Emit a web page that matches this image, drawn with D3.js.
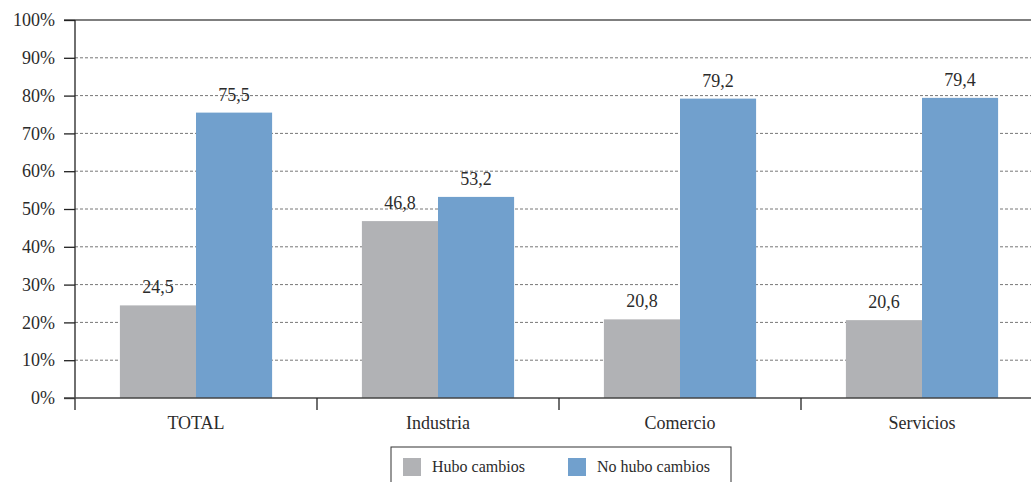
<!DOCTYPE html>
<html>
<head>
<meta charset="utf-8">
<script src="https://cdn.jsdelivr.net/npm/d3@7"></script>
<style>
  body { margin: 0; background: #fff; }
</style>
</head>
<body>
<div id="main"></div>
<script>
const categories = ['TOTAL', 'Industria', 'Comercio', 'Servicios'];
const series = ['Hubo cambios', 'No hubo cambios'];
const huboCambios = [24.5, 46.8, 20.8, 20.6];
const noHuboCambios = [75.5, 53.2, 79.2, 79.4];
const yTicks = [0, 10, 20, 30, 40, 50, 60, 70, 80, 90, 100];
const colors = ['#b1b2b5', '#71a0cd'];

const w = 1031;
const h = 482;
const padLeft = 75, padTop = 20, padBottom = 398, padRight = 1043;
const serif = "'Liberation Serif'";
const ink = '#2b2b2b';

const rows = categories.map((c, i) => ({cat: c, values: [huboCambios[i], noHuboCambios[i]]}));

const xScale = d3.scaleBand().domain(categories).range([padLeft, padRight]).paddingInner(0).paddingOuter(0);
const xInner = d3.scaleBand().domain(series).range([0, xScale.bandwidth()]).paddingOuter(0.59);
const yScale = d3.scaleLinear().domain([0, 100]).range([padBottom, padTop]);

const svg = d3.select('#main').append('svg').attr('width', w).attr('height', h);

// grid lines
svg.append('g').selectAll('line')
  .data(yTicks.filter(t => t > 0 && t < 100))
  .enter().append('line')
  .attr('x1', padLeft).attr('x2', w)
  .attr('y1', d => yScale(d)).attr('y2', d => yScale(d))
  .attr('stroke', '#777').attr('stroke-width', 1)
  .attr('stroke-dasharray', '3,2');

// top line
svg.append('line')
  .attr('x1', 64).attr('x2', w)
  .attr('y1', yScale(100)).attr('y2', yScale(100))
  .attr('stroke', '#555').attr('stroke-width', 1.3);

// bars
const groups = svg.selectAll('.grp').data(rows).enter().append('g')
  .attr('class', 'grp')
  .attr('transform', d => `translate(${xScale(d.cat)},0)`);

groups.selectAll('rect')
  .data(d => d.values.map((v, i) => ({key: series[i], v: v, i: i})))
  .enter().append('rect')
  .attr('x', d => xInner(d.key))
  .attr('width', xInner.bandwidth())
  .attr('y', d => yScale(d.v))
  .attr('height', d => padBottom - yScale(d.v))
  .attr('fill', d => colors[d.i]);

groups.selectAll('.lbl')
  .data(d => d.values.map((v, i) => ({key: series[i], v: v})))
  .enter().append('text')
  .attr('class', 'lbl')
  .attr('x', d => xInner(d.key) + xInner.bandwidth() / 2)
  .attr('y', d => yScale(d.v) - 12)
  .attr('text-anchor', 'middle')
  .style('font-family', serif).style('font-size', '18px').style('fill', ink)
  .text(d => d.v.toFixed(1).replace('.', ','));

// y axis
const yAxis = d3.axisLeft(yScale).tickValues(yTicks).tickSize(11).tickPadding(9)
  .tickFormat(d => d + '%');
const gy = svg.append('g').attr('transform', `translate(${padLeft},0)`).call(yAxis);
gy.select('.domain').remove();
gy.selectAll('line').attr('stroke', '#222').attr('stroke-width', 1.3);
gy.selectAll('text').style('font-family', serif).style('font-size', '18px').style('fill', ink);
svg.append('line').attr('x1', padLeft).attr('x2', padLeft).attr('y1', padTop).attr('y2', 410)
  .attr('stroke', '#222').attr('stroke-width', 1.3);

// x axis
svg.append('line').attr('x1', 64).attr('x2', w)
  .attr('y1', padBottom).attr('y2', padBottom)
  .attr('stroke', '#444').attr('stroke-width', 1.5);
svg.append('g').selectAll('line')
  .data(categories.slice(1))
  .enter().append('line')
  .attr('x1', d => xScale(d)).attr('x2', d => xScale(d))
  .attr('y1', padBottom).attr('y2', 410)
  .attr('stroke', '#222').attr('stroke-width', 1.3);
svg.append('g').selectAll('text')
  .data(categories)
  .enter().append('text')
  .attr('x', d => xScale(d) + xScale.bandwidth() / 2)
  .attr('y', 429)
  .attr('text-anchor', 'middle')
  .style('font-family', serif).style('font-size', '18px').style('fill', ink)
  .text(d => d);

// legend
const legend = svg.append('g').attr('transform', 'translate(391,447)');
legend.append('rect').attr('x', 0).attr('y', 0).attr('width', 340).attr('height', 40)
  .attr('fill', 'none').attr('stroke', '#333').attr('stroke-width', 1);
const legX = [12, 177];
series.forEach((s, i) => {
  legend.append('rect').attr('x', legX[i]).attr('y', 11).attr('width', 18).attr('height', 18)
    .attr('fill', colors[i]);
  legend.append('text').attr('x', legX[i] + 29).attr('y', 25)
    .style('font-family', serif).style('font-size', '16px').style('fill', ink)
    .text(s);
});
</script>
</body>
</html>
